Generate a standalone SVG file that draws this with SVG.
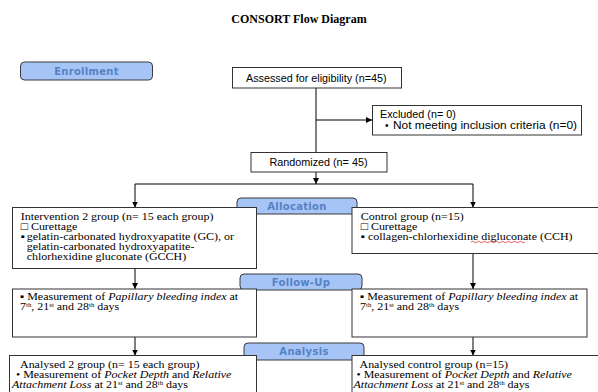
<svg xmlns="http://www.w3.org/2000/svg" width="598" height="392" viewBox="0 0 598 392">
<defs>
<marker id="ah" viewBox="0 0 8 8" refX="8" refY="4" markerWidth="6" markerHeight="6" orient="auto" markerUnits="userSpaceOnUse">
<path d="M0,0 L8,4 L0,8 z" fill="#000"/>
</marker>
<style>
.bx{fill:#fff;stroke:#333;stroke-width:1}
.pill{fill:#a6c4f6;stroke:#3a3a3a;stroke-width:1}
.pt{font-family:"DejaVu Sans",Verdana,sans-serif;font-weight:bold;font-size:10px;letter-spacing:0.3px;fill:#5582c4;text-anchor:middle}
.s{font-family:"Liberation Sans",Arial,sans-serif;font-size:10px;fill:#000}
.r{font-family:"Liberation Serif","Times New Roman",serif;font-size:10.5px;fill:#000}
.sup{font-size:6px}
.ln{fill:none;stroke:#000;stroke-width:1}
.title{font-family:"Liberation Serif","Times New Roman",serif;font-weight:bold;font-size:12px;text-anchor:middle;fill:#000}
</style>
</defs>
<rect width="598" height="392" fill="#fff"/>
<text class="title" x="299" y="23">CONSORT Flow Diagram</text>

<g id="connectors">
<line class="ln" x1="316" y1="88" x2="316" y2="152"/>
<line class="ln" x1="316" y1="120" x2="372" y2="120" marker-end="url(#ah)"/>
<line class="ln" x1="316" y1="172" x2="316" y2="184" marker-end="url(#ah)"/>
<line class="ln" x1="135" y1="184" x2="473" y2="184"/>
<line class="ln" x1="135" y1="184" x2="135" y2="207.5" marker-end="url(#ah)"/>
<line class="ln" x1="473" y1="184" x2="473" y2="207.5" marker-end="url(#ah)"/>
<line class="ln" x1="135" y1="268.5" x2="135" y2="289" marker-end="url(#ah)"/>
<line class="ln" x1="473" y1="253.5" x2="473" y2="289" marker-end="url(#ah)"/>
<line class="ln" x1="135" y1="337" x2="135" y2="355.5" marker-end="url(#ah)"/>
<line class="ln" x1="473" y1="337" x2="473" y2="355.5" marker-end="url(#ah)"/>
</g>

<g id="enrollment">
<rect class="pill" x="20.5" y="62" width="132" height="18" rx="4"/>
<text class="pt" x="86.5" y="75">Enrollment</text>
</g>

<g id="assessed">
<rect class="bx" x="232.5" y="67.5" width="169" height="20.5"/>
<text class="s" transform="matrix(1.08,0,0,1,246,81.5)">Assessed for eligibility (n=45)</text>
</g>

<g id="excluded">
<rect class="bx" x="372.5" y="105.5" width="209" height="29.5"/>
<text class="s" transform="matrix(1.08,0,0,1,380,117.5)">Excluded (n= 0)</text>
<text class="s" x="385" y="128.5">•</text>
<text class="s" x="393" y="128.5" textLength="184" lengthAdjust="spacingAndGlyphs">Not meeting inclusion criteria (n=0)</text>
</g>

<g id="randomized">
<rect class="bx" x="251" y="152.5" width="136" height="19.5"/>
<text class="s" transform="matrix(1.08,0,0,1,269.5,165.5)">Randomized (n= 45)</text>
</g>

<g id="allocation">
<rect class="pill" x="237" y="198" width="120" height="16" rx="4"/>
<text class="pt" x="297" y="209.8">Allocation</text>
</g>

<g id="intervention">
<rect class="bx" x="12.5" y="207.5" width="244" height="61"/>
<text class="r" transform="matrix(1.14,0,0,1,20.7,219.5)">Intervention 2 group (n= 15 each group)</text>
<text class="r" transform="matrix(1.14,0,0,1,20.7,229.5)">□ Curettage</text>
<text class="r" transform="matrix(1.14,0,0,1,20.7,239.5)">▪</text>
<text class="r" transform="matrix(1.14,0,0,1,26.7,239.5)">gelatin-carbonated hydroxyapatite (GC), or</text>
<text class="r" transform="matrix(1.14,0,0,1,26.7,249.5)">gelatin-carbonated hydroxyapatite-</text>
<text class="r" transform="matrix(1.14,0,0,1,26.7,260)">chlorhexidine gluconate (GCCH)</text>
</g>

<g id="control">
<rect class="bx" x="352" y="207.5" width="250" height="46"/>
<text class="r" transform="matrix(1.14,0,0,1,360.7,219.5)">Control group (n=15)</text>
<text class="r" transform="matrix(1.14,0,0,1,360.7,229.5)">□ Curettage</text>
<text class="r" transform="matrix(1.14,0,0,1,360.7,239.5)">▪ collagen-chlorhexidine digluconate (CCH)</text>
<path d="M471,242 q1.5,-1.5 3,0 t3,0 t3,0 t3,0 t3,0 t3,0 t3,0 t3,0 t3,0 t3,0 t3,0 t3,0 t3,0 t3,0 t3,0 t3,0 t3,0 t3,0" fill="none" stroke="#e03030" stroke-width="0.8"/>
</g>

<g id="followup">
<rect class="pill" x="240" y="274" width="122" height="16" rx="4"/>
<text class="pt" x="301" y="285.8">Follow-Up</text>
</g>

<g id="followup-left">
<rect class="bx" x="12.5" y="289" width="244" height="48"/>
<text class="r" transform="matrix(1.14,0,0,1,20,300)">▪ Measurement of <tspan font-style="italic">Papillary bleeding index</tspan> at</text>
<text class="r" transform="matrix(1.14,0,0,1,20,310)">7<tspan class="sup" dy="-3">th</tspan><tspan dy="3">, 21</tspan><tspan class="sup" dy="-3">st</tspan><tspan dy="3"> and 28</tspan><tspan class="sup" dy="-3">th</tspan><tspan dy="3"> days</tspan></text>
</g>

<g id="followup-right">
<rect class="bx" x="352" y="289" width="235" height="48"/>
<text class="r" transform="matrix(1.14,0,0,1,360,300)">▪ Measurement of <tspan font-style="italic">Papillary bleeding index</tspan> at</text>
<text class="r" transform="matrix(1.14,0,0,1,360,310)">7<tspan class="sup" dy="-3">th</tspan><tspan dy="3">, 21</tspan><tspan class="sup" dy="-3">st</tspan><tspan dy="3"> and 28</tspan><tspan class="sup" dy="-3">th</tspan><tspan dy="3"> days</tspan></text>
</g>

<g id="analysis">
<rect class="pill" x="244" y="343" width="120" height="17" rx="4"/>
<text class="pt" x="304" y="355.3">Analysis</text>
</g>

<g id="analysis-left">
<rect class="bx" x="9.5" y="355.5" width="247" height="45"/>
<text class="r" transform="matrix(1.14,0,0,1,20,367.5)">Analysed 2 group (n= 15 each group)</text>
<text class="r" transform="matrix(1.14,0,0,1,16,377.5)">• Measurement of <tspan font-style="italic">Pocket Depth</tspan> and <tspan font-style="italic">Relative</tspan></text>
<text class="r" transform="matrix(1.14,0,0,1,12,387.5)"><tspan font-style="italic">Attachment Loss</tspan> at 21<tspan class="sup" dy="-3">st</tspan><tspan dy="3"> and 28</tspan><tspan class="sup" dy="-3">th</tspan><tspan dy="3"> days</tspan></text>
</g>

<g id="analysis-right">
<rect class="bx" x="352" y="355.5" width="250" height="45"/>
<text class="r" transform="matrix(1.14,0,0,1,359.5,367.5)">Analysed control group (n=15)</text>
<text class="r" transform="matrix(1.14,0,0,1,356.5,377.5)">• Measurement of <tspan font-style="italic">Pocket Depth</tspan> and <tspan font-style="italic">Relative</tspan></text>
<text class="r" transform="matrix(1.14,0,0,1,353.5,387.5)"><tspan font-style="italic">Attachment Loss</tspan> at 21<tspan class="sup" dy="-3">st</tspan><tspan dy="3"> and 28</tspan><tspan class="sup" dy="-3">th</tspan><tspan dy="3"> days</tspan></text>
</g>
</svg>
